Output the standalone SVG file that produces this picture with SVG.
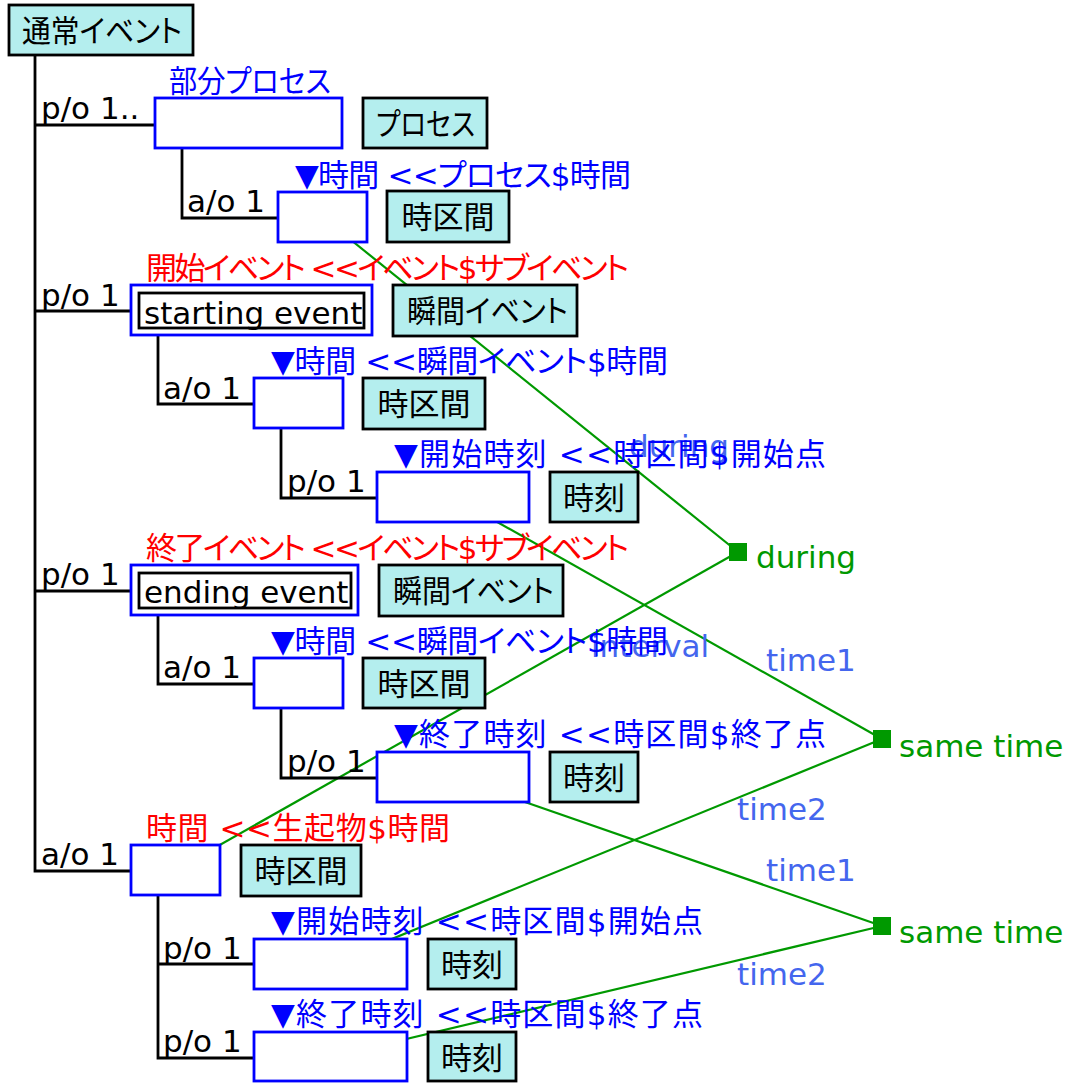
<svg xmlns="http://www.w3.org/2000/svg" width="1070" height="1083" viewBox="0 0 1070 1083">
<style>
text { font-family: "DejaVu Sans", "Noto Sans CJK JP", sans-serif; font-size: 31px; font-feature-settings: "palt"; }
.cls { fill: #b4eeee; stroke: #000; stroke-width: 2.8; }
.inst { fill: #fff; stroke: #0000ff; stroke-width: 2.8; }
.inner { fill: none; stroke: #000; stroke-width: 2.8; }
.ct { fill: #000; text-anchor: middle; }
.blk { fill: #000; }
.blue { fill: #0000ff; }
.red { fill: #ff0000; }
.lb { fill: #4466ee; }
.grn { fill: #009900; }
.tree { fill: none; stroke: #000; stroke-width: 2.8; }
.rel { stroke: #009900; stroke-width: 2.2; fill: none; }
.sq { fill: #009900; }
</style>
<rect width="1070" height="1083" fill="#fff"/>
<g id="connectors">
  <path class="rel" d="M322.5 217 L738 552"/>
  <path class="rel" d="M175.5 870 L738 552"/>
  <path class="rel" d="M453 497 L882 739"/>
  <path class="rel" d="M330.5 964 L882 739"/>
  <path class="rel" d="M453 777 L882 926"/>
  <path class="rel" d="M330.5 1057 L882 926"/>
  <text class="lb" x="629" y="457">during</text>
  <text class="lb" x="591" y="657">interval</text>
  <text class="lb" x="766" y="671">time1</text>
  <text class="lb" x="737" y="820">time2</text>
  <text class="lb" x="766" y="881">time1</text>
  <text class="lb" x="737" y="985">time2</text>
  <path class="tree" d="M35 55 V871 H131"/>
  <path class="tree" d="M35 125 H155"/>
  <path class="tree" d="M35 311 H131"/>
  <path class="tree" d="M35 591 H131"/>
  <path class="tree" d="M182 148 V218 H278"/>
  <path class="tree" d="M158 335 V404 H254"/>
  <path class="tree" d="M281 428 V498 H377"/>
  <path class="tree" d="M158 615 V684 H254"/>
  <path class="tree" d="M281 708 V778 H377"/>
  <path class="tree" d="M158 895 V1058 H254 M158 964 H254"/>
  <text class="blk" x="41" y="119">p/o 1..</text>
  <text class="blk" x="187" y="212">a/o 1</text>
  <text class="blk" x="41" y="306">p/o 1</text>
  <text class="blk" x="163" y="399">a/o 1</text>
  <text class="blk" x="287" y="492">p/o 1</text>
  <text class="blk" x="41" y="585">p/o 1</text>
  <text class="blk" x="163" y="678">a/o 1</text>
  <text class="blk" x="287" y="772">p/o 1</text>
  <text class="blk" x="41" y="865">a/o 1</text>
  <text class="blk" x="163" y="959">p/o 1</text>
  <text class="blk" x="163" y="1052">p/o 1</text>
</g>
<g id="root">
  <rect class="cls" x="9" y="5" width="184" height="50"/>
  <text class="blk" x="22" y="42" textLength="160" lengthAdjust="spacingAndGlyphs">通常イベント</text>
</g>
<g id="subprocess">
  <text class="blue" x="169" y="92" textLength="162" lengthAdjust="spacingAndGlyphs">部分プロセス</text>
  <rect class="inst" x="155" y="98" width="187" height="50"/>
</g>
<g id="class-process">
  <rect class="cls" x="363" y="98" width="124" height="50"/>
  <text class="blk" x="376" y="135" textLength="99" lengthAdjust="spacingAndGlyphs">プロセス</text>
</g>
<g id="subprocess-time">
  <text class="blue" x="295" y="186" textLength="336">▼時間 &lt;&lt;プロセス$時間</text>
  <rect class="inst" x="278" y="192" width="89" height="50"/>
</g>
<g id="class-interval-1">
  <rect class="cls" x="387" y="191" width="122" height="51"/>
  <text class="ct" x="448" y="228">時区間</text>
</g>
<g id="starting-event">
  <text class="red" x="146" y="279" textLength="483">開始イベント &lt;&lt;イベント$サブイベント</text>
  <rect class="inst" x="131" y="285" width="241" height="50"/>
  <rect class="inner" x="139" y="293" width="225" height="35"/>
  <text class="blk" x="144" y="324">starting event</text>
</g>
<g id="class-instant-1">
  <rect class="cls" x="393" y="285" width="184" height="51"/>
  <text class="blk" x="407" y="322" textLength="161" lengthAdjust="spacingAndGlyphs">瞬間イベント</text>
</g>
<g id="starting-time">
  <text class="blue" x="271" y="372" textLength="397">▼時間 &lt;&lt;瞬間イベント$時間</text>
  <rect class="inst" x="254" y="378" width="89" height="50"/>
</g>
<g id="class-interval-2">
  <rect class="cls" x="363" y="378" width="122" height="51"/>
  <text class="ct" x="424" y="415">時区間</text>
</g>
<g id="starting-begin">
  <text class="blue" x="394" y="465" textLength="432">▼開始時刻 &lt;&lt;時区間$開始点</text>
  <rect class="inst" x="377" y="472" width="152" height="50"/>
</g>
<g id="class-instant-t1">
  <rect class="cls" x="550" y="472" width="88" height="50"/>
  <text class="ct" x="594" y="509">時刻</text>
</g>
<g id="ending-event">
  <text class="red" x="146" y="559" textLength="483">終了イベント &lt;&lt;イベント$サブイベント</text>
  <rect class="inst" x="131" y="565" width="227" height="50"/>
  <rect class="inner" x="139" y="573" width="212" height="35"/>
  <text class="blk" x="144" y="603">ending event</text>
</g>
<g id="class-instant-2">
  <rect class="cls" x="379" y="565" width="184" height="51"/>
  <text class="blk" x="393" y="602" textLength="161" lengthAdjust="spacingAndGlyphs">瞬間イベント</text>
</g>
<g id="ending-time">
  <text class="blue" x="271" y="652" textLength="397">▼時間 &lt;&lt;瞬間イベント$時間</text>
  <rect class="inst" x="254" y="658" width="89" height="50"/>
</g>
<g id="class-interval-3">
  <rect class="cls" x="363" y="658" width="122" height="50"/>
  <text class="ct" x="424" y="695">時区間</text>
</g>
<g id="ending-end">
  <text class="blue" x="394" y="745" textLength="432">▼終了時刻 &lt;&lt;時区間$終了点</text>
  <rect class="inst" x="377" y="752" width="152" height="50"/>
</g>
<g id="class-instant-t2">
  <rect class="cls" x="550" y="752" width="88" height="50"/>
  <text class="ct" x="594" y="789">時刻</text>
</g>
<g id="event-time">
  <text class="red" x="146" y="839" textLength="304">時間 &lt;&lt;生起物$時間</text>
  <rect class="inst" x="131" y="845" width="89" height="50"/>
</g>
<g id="class-interval-4">
  <rect class="cls" x="241" y="845" width="120" height="51"/>
  <text class="ct" x="301" y="882">時区間</text>
</g>
<g id="event-begin">
  <text class="blue" x="271" y="932" textLength="432">▼開始時刻 &lt;&lt;時区間$開始点</text>
  <rect class="inst" x="254" y="939" width="153" height="50"/>
</g>
<g id="class-instant-t3">
  <rect class="cls" x="428" y="939" width="88" height="50"/>
  <text class="ct" x="472" y="976">時刻</text>
</g>
<g id="event-end">
  <text class="blue" x="271" y="1025" textLength="432">▼終了時刻 &lt;&lt;時区間$終了点</text>
  <rect class="inst" x="254" y="1032" width="153" height="49"/>
</g>
<g id="class-instant-t4">
  <rect class="cls" x="428" y="1032" width="88" height="49"/>
  <text class="ct" x="472" y="1069">時刻</text>
</g>
<g id="during">
  <rect class="sq" x="729" y="543" width="18" height="18"/>
  <text class="grn" x="756" y="568">during</text>
</g>
<g id="same-time-1">
  <rect class="sq" x="873" y="730" width="18" height="18"/>
  <text class="grn" x="899" y="757">same time</text>
</g>
<g id="same-time-2">
  <rect class="sq" x="873" y="917" width="18" height="18"/>
  <text class="grn" x="899" y="943">same time</text>
</g>
</svg>
